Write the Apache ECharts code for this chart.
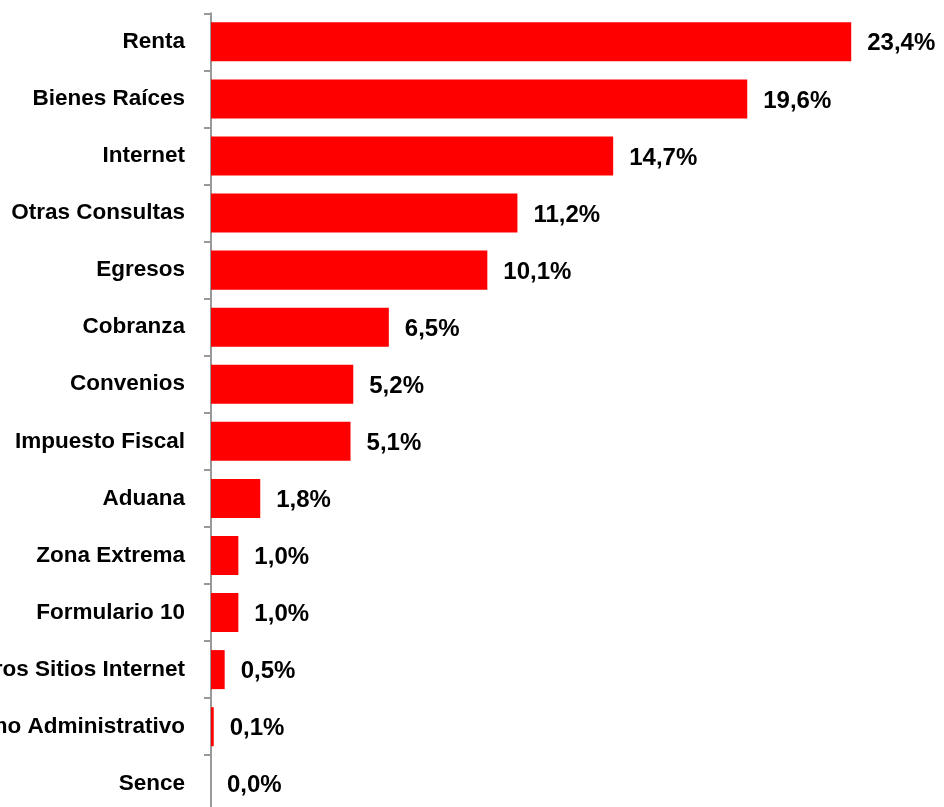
<!DOCTYPE html>
<html>
<head>
<meta charset="utf-8">
<script src="https://cdn.jsdelivr.net/npm/echarts@6/dist/echarts.min.js"></script>
<style>
html,body{margin:0;padding:0;background:#fff;}
#c{width:944px;height:807px;}
</style>
</head>
<body>
<div id="c"></div>
<script>
const categories = ["Renta","Bienes Raíces","Internet","Otras Consultas","Egresos","Cobranza","Convenios","Impuesto Fiscal","Aduana","Zona Extrema","Formulario 10","Otros Sitios Internet","Reclamo Administrativo","Sence"];
const values = [23.4,19.6,14.7,11.2,10.1,6.5,5.2,5.1,1.8,1.0,1.0,0.5,0.1,0.0];

const FONT = '"Liberation Sans", Arial, sans-serif';
const chart = echarts.init(document.getElementById('c'), null, {renderer:'canvas'});
chart.setOption({
  animation:false,
  grid:{left:211, top:13.3, width:684, height:799, containLabel:false, outerBoundsMode:'none'},
  xAxis:{type:'value', min:0, max:25, show:false},
  yAxis:{
    type:'category', data:categories, inverse:true,
    axisLine:{show:true, lineStyle:{color:'#999999', width:2}},
    axisTick:{show:true, length:7, lineStyle:{color:'#999999', width:2}},
    axisLabel:{margin:26, color:'#000', fontFamily:FONT, fontWeight:'bold', fontSize:22.5},
    splitLine:{show:false}
  },
  series:[{
    type:'bar', data:values, barCategoryGap:'31.6%',
    itemStyle:{color:'#FF0000'},
    label:{show:true, position:'right', distance:16, offset:[0,2], color:'#000', fontFamily:FONT, fontWeight:'bold', fontSize:24,
      formatter:p=>p.value.toFixed(1).replace('.',',')+'%'}
  }]
});
</script>
</body>
</html>
